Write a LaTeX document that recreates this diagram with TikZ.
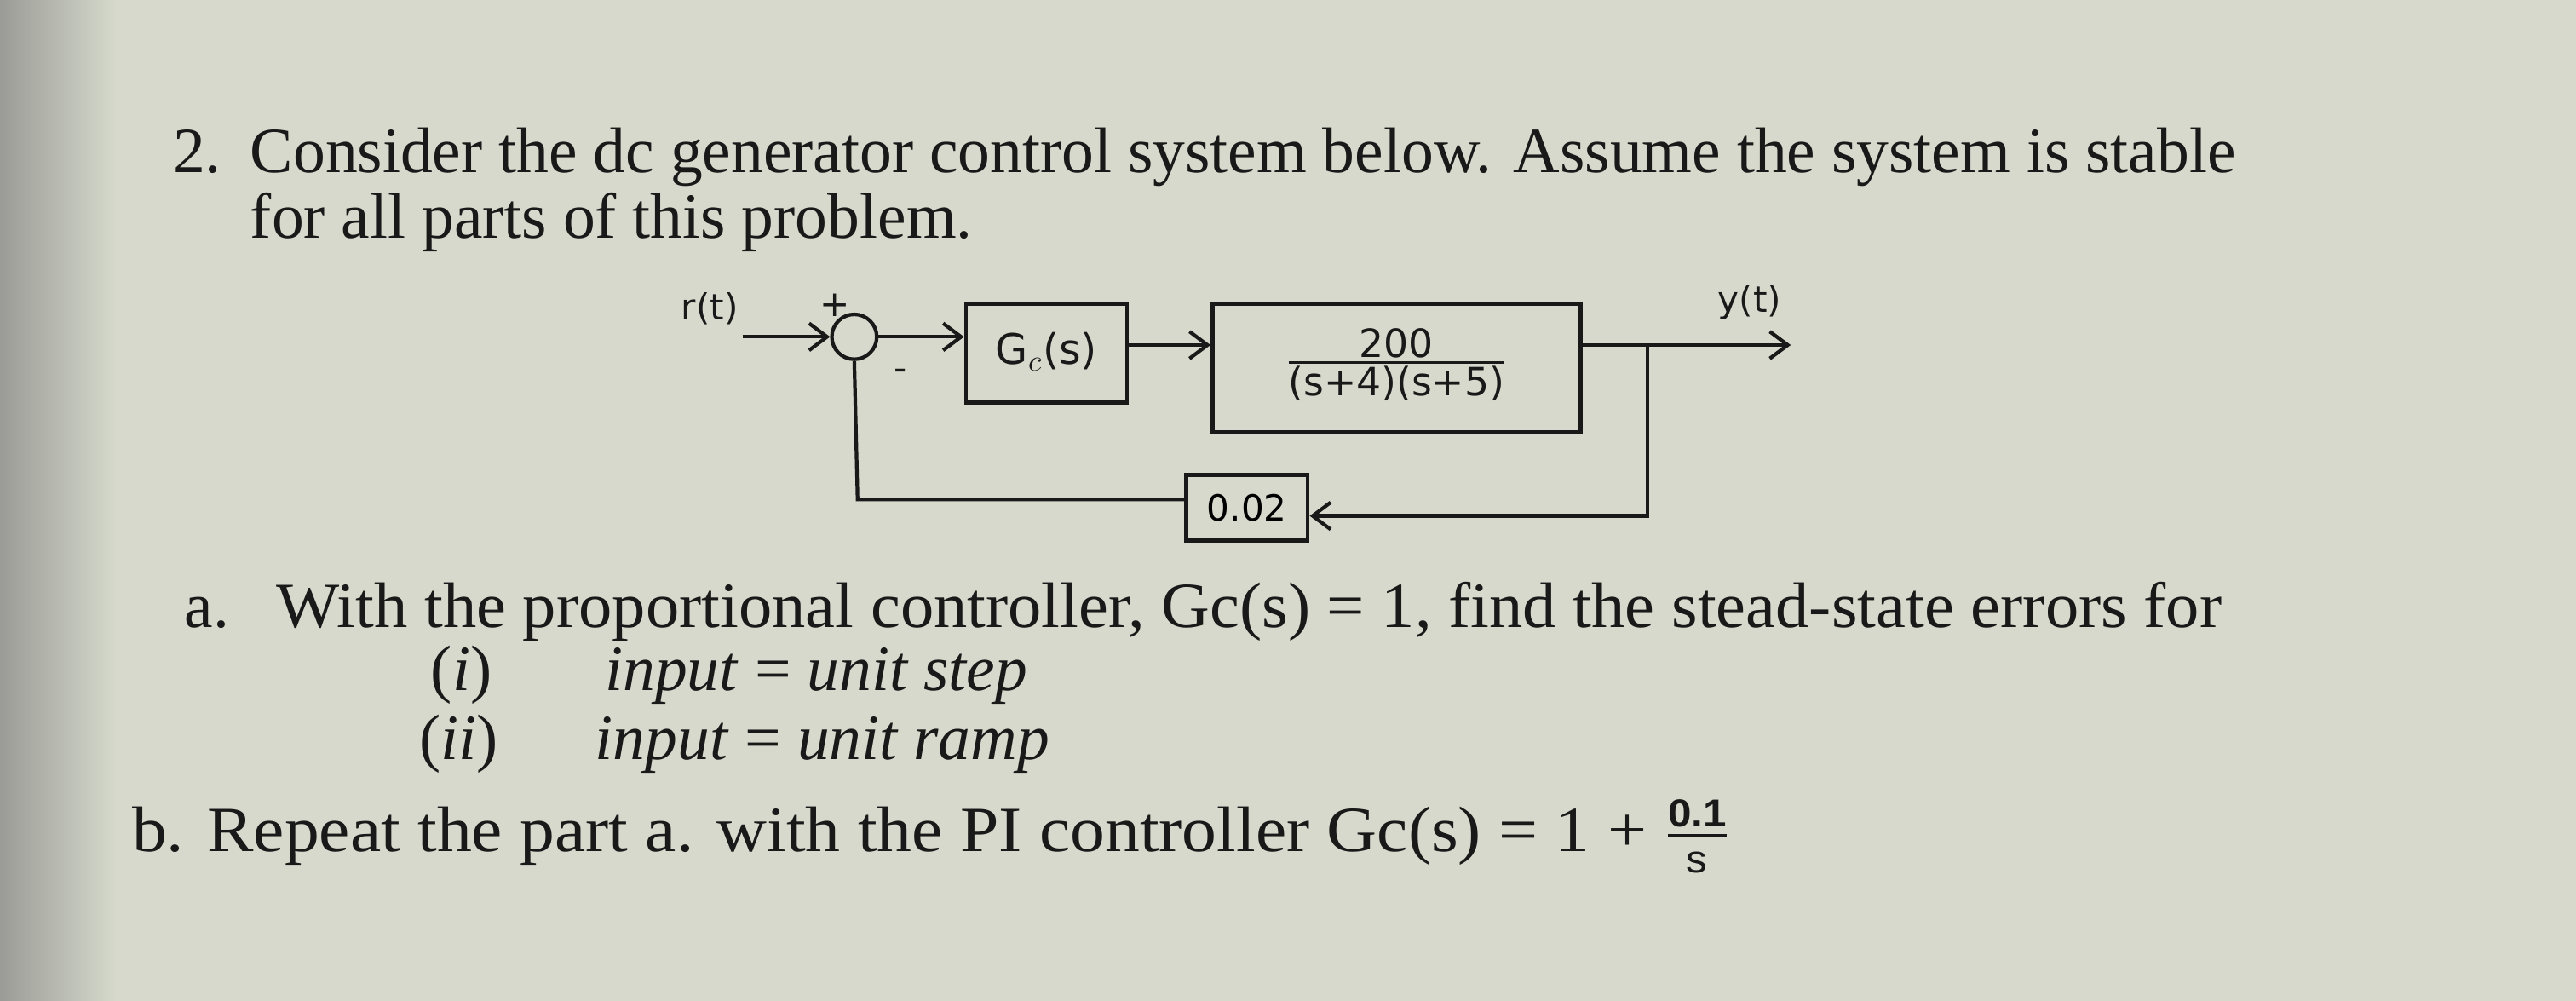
\documentclass[tikz,border=0pt]{standalone}
\usepackage{amsmath}
\usepackage{fontspec}
\setmainfont{Liberation Serif}
\newfontfamily\hand{DejaVu Sans}
\newfontfamily\arialish{Liberation Sans}
\usetikzlibrary{arrows.meta}
\definecolor{paper}{RGB}{214,217,204}
\definecolor{ink}{RGB}{25,25,25}
\begin{document}
\begin{tikzpicture}[x=0.01929cm,y=-0.01929cm,
  txt/.style={anchor=base west,inner sep=0,font=\fontsize{21.5}{24}\selectfont,text=ink},
  blk/.style={draw=ink,line width=1.3pt,inner sep=0},
  hw/.style={font=\hand\fontsize{12}{14}\selectfont,text=ink,inner sep=0},
  wire/.style={draw=ink,line width=1.2pt},
  arr/.style={wire,-{Straight Barb[length=6pt,width=9pt]}}]
\useasboundingbox (0,0) rectangle (1568,609);
\fill[paper] (0,0) rectangle (1568,609);
\shade[left color=black!55,right color=paper,opacity=0.6] (0,0) rectangle (70,609);
% text
\node[txt] (n2) at (105,105) {2.};
\node[txt] (l1) at (152,105) {Consider the dc generator control system below. Assume the system is stable};
\node[txt] (l2) at (152,145) {for all parts of this problem.};
\node[txt] (a) at (112,382) {a.};
\node[txt,xscale=1.04] (la) at (168,382) {With the proportional controller, Gc(s) = 1, find the stead-state errors for};
\node[txt] (i1) at (262,420) {(\textit{i})};
\node[txt] (i2) at (368,420) {\textit{input} = \textit{unit step}};
\node[txt] (ii1) at (255,462) {(\textit{ii})};
\node[txt] (ii2) at (362,462) {\textit{input} = \textit{unit ramp}};
\node[txt,xscale=1.08] (lb) at (80,518) {b. Repeat the part a. with the PI controller Gc(s) = 1 + $\genfrac{}{}{1.2pt}{}{\text{\arialish\bfseries\fontsize{13}{14}\selectfont 0.1}}{\text{\arialish\fontsize{13}{14}\selectfont s}}$};
% diagram
\node[hw] (r) at (432,188) {r(t)};
\coordinate (rs) at (470,205);
\node[draw=ink,line width=1.2pt,circle,minimum size=15pt,inner sep=0] (sum) at (520,205) {};
\node[hw] (plus) at (508,186) {+};
\node[hw] (minus) at (548,228) {-};
\node[blk,minimum width=98*0.01929cm,minimum height=60*0.01929cm] (gc) at (637,215) {};
\node[hw,font=\hand\fontsize{14}{16}\selectfont] (gct) at (637,214) {G$_c$(s)};
\node[blk,minimum width=224*0.01929cm,minimum height=78*0.01929cm] (pl) at (850,224) {};
\node[hw,font=\hand\fontsize{13}{15}\selectfont] (plt) at (850,222) {$\genfrac{}{}{0.8pt}{}{\hbox{200}}{\hbox{(s+4)(s+5)}}$};
\coordinate (tap) at (1003,210);
\coordinate (out) at (1090,210);
\node[hw] (y) at (1065,184) {y(t)};
\node[blk,minimum width=74*0.01929cm,minimum height=40*0.01929cm,font=\hand\fontsize{12}{14}\selectfont] (fb) at (759,309) {0.02};
\coordinate (c1) at (1003,314);
\coordinate (c2) at (522,304);
\draw[wire] (452,205) -- (rs);
\draw[arr] (rs) -- (sum.west);
\draw[arr] (sum.east) -- (sum.east -| gc.west);
\draw[arr] (gc.east |- 210,210) -- (210,210 -| pl.west);
\draw[arr] (pl.east |- tap) -- (out);
\draw[arr] (tap) -- (c1) -- (fb.east |- c1);
\draw[wire] (fb.west |- c2) -- (c2) -- (sum.south);
\end{tikzpicture}
\end{document}
